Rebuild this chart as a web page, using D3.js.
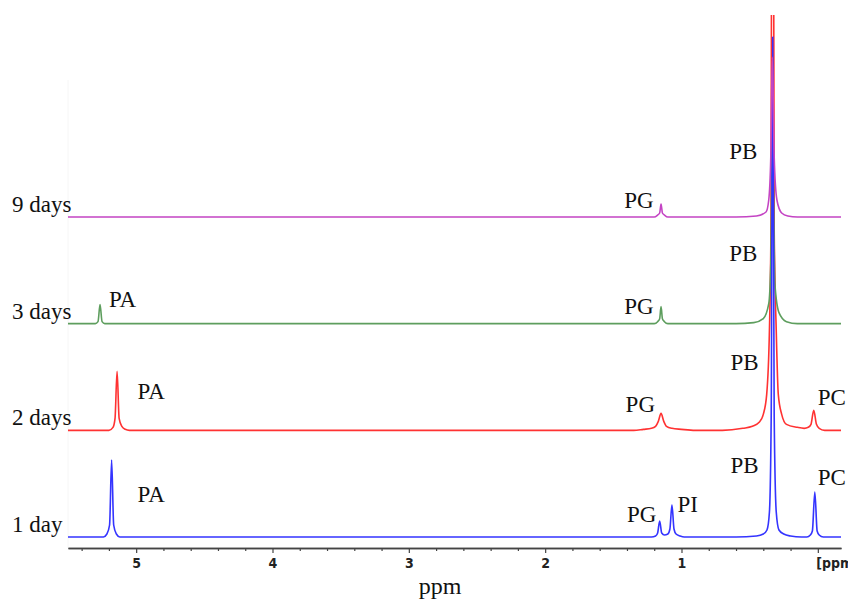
<!DOCTYPE html>
<html>
<head>
<meta charset="utf-8">
<script src="https://cdn.jsdelivr.net/npm/d3@7"></script>
<style>
  body { margin: 0; background: #fff; }
  .serif { font-family: "Liberation Serif", "Times New Roman", serif; fill: #111; }
  .tick text { font-family: "Liberation Sans Narrow", "DejaVu Sans Condensed", sans-serif; font-weight: bold; }
</style>
</head>
<body>
<div id="canvas"></div>
<script>
// -------------------------------------------- Data

const days = ["1 day", "2 days", "3 days", "9 days"];

// [ppm, intensity]
const spec1day = [
  [5.5, 0], [5.24, 0], [5.215, 3], [5.195, 12], [5.18, 77], [5.165, 12], [5.145, 3], [5.12, 0],
  [1.22, 0], [1.19, 1], [1.175, 4], [1.16, 16], [1.145, 4], [1.125, 2], [1.1, 3], [1.085, 8],
  [1.07, 32], [1.055, 8], [1.04, 3], [1.01, 1], [0.98, 0],
  [0.6, 0], [0.45, 1], [0.4, 3], [0.373, 7], [0.355, 25], [0.342, 120], [0.331, 500],
  [0.32, 120], [0.305, 25], [0.285, 7], [0.25, 3], [0.2, 1], [0.12, 0],
  [0.08, 0], [0.055, 2], [0.04, 6], [0.022, 45], [0.005, 6], [-0.01, 2], [-0.04, 0], [-0.17, 0]
];

const spec2days = [
  [5.5, 0], [5.2, 0], [5.17, 3], [5.155, 12], [5.14, 59], [5.125, 12], [5.105, 4], [5.08, 1], [5.05, 0],
  [1.35, 0], [1.28, 1], [1.22, 2], [1.19, 4], [1.17, 9], [1.15, 17], [1.13, 9], [1.11, 4],
  [1.07, 2], [1.0, 1], [0.9, 0],
  [0.7, 0], [0.55, 2], [0.48, 4], [0.43, 8], [0.4, 16], [0.375, 36], [0.355, 100], [0.344, 200],
  [0.332, 1000], [0.32, 200], [0.305, 100], [0.29, 36], [0.265, 16], [0.23, 6], [0.15, 3], [0.1, 2],
  [0.07, 3], [0.05, 6], [0.03, 20], [0.01, 6], [-0.01, 2], [-0.05, 0], [-0.17, 0]
];

const spec3days = [
  [5.5, 0], [5.3, 0], [5.28, 2], [5.265, 19], [5.25, 2], [5.23, 0],
  [1.2, 0], [1.175, 2], [1.16, 5], [1.15, 17], [1.14, 5], [1.125, 2], [1.1, 0],
  [0.6, 0], [0.47, 1], [0.4, 5], [0.36, 20], [0.345, 60], [0.333, 200],
  [0.315, 40], [0.285, 11], [0.23, 2], [0.15, 0], [-0.17, 0]
];

const spec9days = [
  [5.5, 0], [1.2, 0], [1.175, 2], [1.16, 4], [1.15, 13], [1.14, 4], [1.125, 2], [1.1, 0],
  [0.6, 0], [0.45, 1], [0.38, 5], [0.36, 17], [0.345, 60], [0.334, 160],
  [0.32, 60], [0.3, 17], [0.265, 4], [0.22, 1], [0.15, 0], [-0.17, 0]
];

// [day, name, ppm of label start, height above baseline]
const peakLabels = [
  ["1 day", "PA", 4.99, 35], ["1 day", "PG", 1.40, 15], ["1 day", "PI", 1.03, 25],
  ["1 day", "PB", 0.64, 64], ["1 day", "PC", 0.0, 52],
  ["2 days", "PA", 4.99, 31], ["2 days", "PG", 1.41, 18], ["2 days", "PB", 0.64, 60],
  ["2 days", "PC", 0.0, 25],
  ["3 days", "PA", 5.2, 17], ["3 days", "PG", 1.42, 10], ["3 days", "PB", 0.65, 63],
  ["9 days", "PG", 1.42, 9], ["9 days", "PB", 0.65, 58]
];

const majorTicks = [5, 4, 3, 2, 1, 0];
const majorLabels = ["5", "4", "3", "2", "1", "[ppm]"];
const minorTicks = [5.4, 5.2, 4.8, 4.6, 4.4, 4.2, 3.8, 3.6, 3.4, 3.2, 2.8, 2.6, 2.4, 2.2,
  1.8, 1.6, 1.4, 1.2, 0.8, 0.6, 0.4, 0.2];

// -------------------------------------------- Lienzo

const width = 848;
const height = 599;

const svg = d3.select("#canvas").append("svg")
  .attr("width", width)
  .attr("height", height);

// -------------------------------------------- Escalas

const x = d3.scaleLinear().domain([5.5, -0.17]).range([68, 841]);
const offset = d3.scalePoint().domain(days).range([537, 217]);
const h = d3.scaleLinear().domain([0, 100]).range([0, 100]);

const colors = { "1 day": "#3434ff", "2 days": "#ff3232", "3 days": "#5e9e5e", "9 days": "#c444c4" };
const series = { "1 day": spec1day, "2 days": spec2days, "3 days": spec3days, "9 days": spec9days };

svg.append("clipPath").attr("id", "clip")
  .append("rect")
  .attr("x", 60).attr("y", 15)
  .attr("width", 790).attr("height", 540);

// faint left guide
svg.append("line")
  .attr("x1", x(5.5)).attr("x2", x(5.5))
  .attr("y1", 80).attr("y2", 548)
  .attr("stroke", "#f6f6f6");

// -------------------------------------------- Espectros

const plot = svg.append("g").attr("clip-path", "url(#clip)");

["2 days", "3 days", "1 day", "9 days"].forEach((day) => {
  const line = d3.line()
    .x((d) => x(d[0]))
    .y((d) => offset(day) - h(d[1]))
    .curve(d3.curveMonotoneX);

  plot.append("path")
    .datum(series[day])
    .attr("d", line)
    .attr("fill", "none")
    .attr("stroke", colors[day])
    .attr("stroke-width", 1.6);
});

// -- Etiquetas de serie
svg.selectAll(".day")
  .data(days)
  .enter()
  .append("text")
  .attr("class", "serif day")
  .attr("x", 12)
  .attr("y", (d) => offset(d) - 5)
  .style("font-size", "23px")
  .text((d) => d);

// -- Etiquetas de picos
svg.selectAll(".peak")
  .data(peakLabels)
  .enter()
  .append("text")
  .attr("class", "serif peak")
  .attr("x", (d) => x(d[2]))
  .attr("y", (d) => offset(d[0]) - h(d[3]))
  .style("font-size", "23px")
  .text((d) => d[1]);

// -------------------------------------------- Eje X

const axis = svg.append("g").attr("transform", "translate(0,548)");

axis.call(d3.axisBottom(x).tickValues(minorTicks).tickSize(3).tickSizeOuter(0).tickFormat(""));

const major = svg.append("g")
  .attr("transform", "translate(0,548)")
  .call(d3.axisBottom(x).tickValues(majorTicks).tickSize(5).tickPadding(5).tickSizeOuter(0)
    .tickFormat((d, i) => majorLabels[i]));

svg.selectAll(".domain").attr("stroke", "#444").attr("stroke-width", 1.5);
svg.selectAll(".tick line").attr("stroke", "#444").attr("stroke-width", 1.2);
major.selectAll(".tick text")
  .style("font-size", "14px")
  .attr("fill", "#222")
  .attr("text-anchor", (d) => (d === 0 ? "start" : "middle"))
  .attr("x", (d) => (d === 0 ? -2 : 0));

svg.append("text")
  .attr("class", "serif")
  .attr("x", 440)
  .attr("y", 594)
  .attr("text-anchor", "middle")
  .style("font-size", "24px")
  .text("ppm");
</script>
</body>
</html>
